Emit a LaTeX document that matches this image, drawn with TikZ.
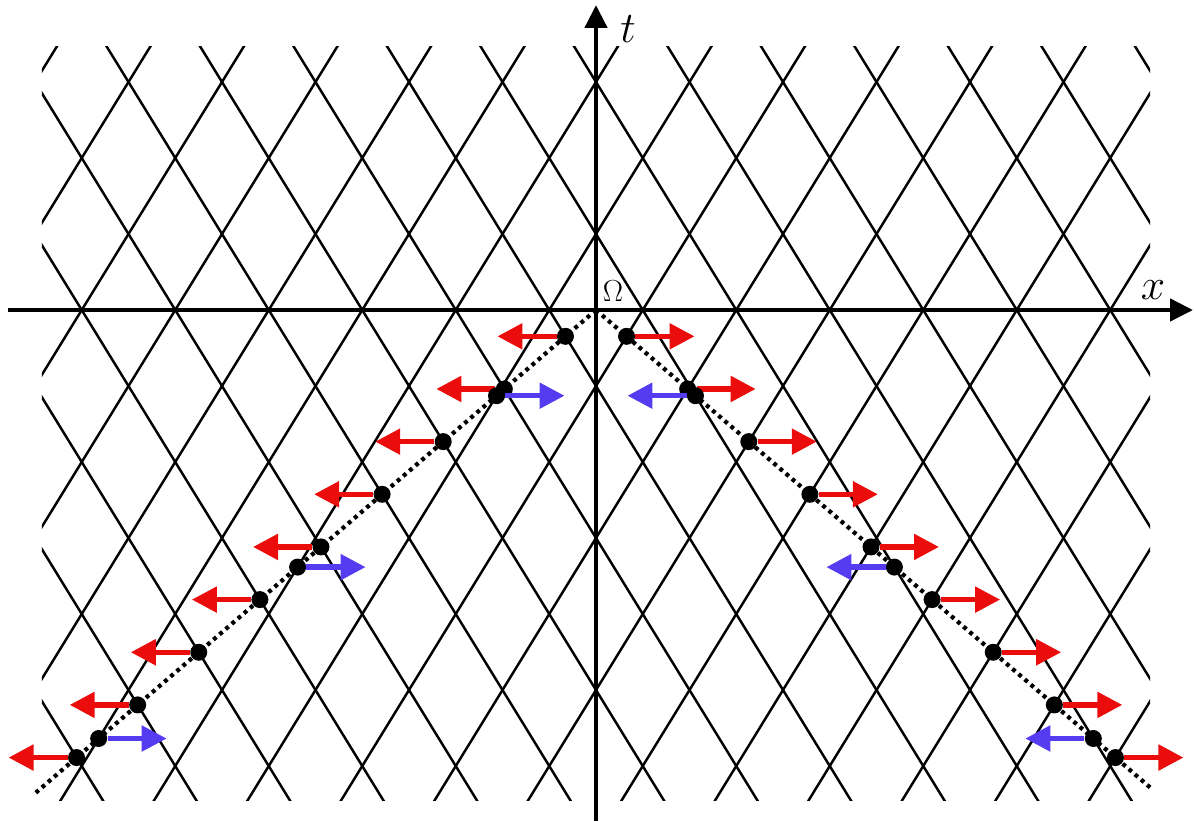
\documentclass[tikz,border=0pt]{standalone}
\usetikzlibrary{arrows.meta}

\definecolor{kinkred}{RGB}{235,12,12}
\definecolor{kinkblue}{RGB}{85,60,240}

\begin{document}
\begin{tikzpicture}[x=0.935cm, y=1.52cm,
  grid/.style={line width=1.4pt},
  axis/.style={line width=2.6pt, -{Triangle[length=4.6mm,width=4.4mm]}},
  worldline/.style={line width=2.4pt, dash pattern=on 2.2pt off 2.4pt},
  dot/.style={circle, fill=black, inner sep=0pt, minimum size=3.4mm},
  mover/.style={line width=3pt, -{Triangle[length=5mm,width=5mm]}}]
  \useasboundingbox (-11.92cm,-10.22cm) rectangle (11.96cm,6.2cm);
  \def\vel{0.53}

  % light-cone lattice
  \begin{scope}
    \clip (-11.08cm,-9.8cm) rectangle (11.08cm,5.26cm);
    \foreach \k in {-21,-19,...,21} {
      \draw[grid] (\k-8,8) -- (\k+8,-8);
      \draw[grid] (\k-8,-8) -- (\k+8,8);
    }
  \end{scope}

  % axes
  \coordinate (O) at (0,0);
  \coordinate (tbot) at (0,-10.22cm);
  \coordinate (ttop) at (0,6.1cm);
  \coordinate (xleft) at (-11.76cm,0);
  \coordinate (xright) at (11.94cm,0);
  \draw[axis] (tbot) -- (ttop);
  \draw[axis] (xleft) -- (xright);
  \node[font=\fontsize{25}{30}\selectfont] (tlab) at (0.64cm,5.62cm) {$t$};
  \node[font=\fontsize{25}{30}\selectfont] (xlab) at (11.14cm,0.4cm) {$x$};
  \node[font=\fontsize{19}{22}\selectfont] (omega) at (0.34cm,0.38cm) {$\Omega$};

  % trajectories
  \coordinate (lend) at (-12,-12*\vel);
  \coordinate (rend) at (11.92,-11.92*\vel);
  \draw[worldline] (O) -- (lend);
  \draw[worldline] (O) -- (rend);

  % crossings with the left-moving lines
  \foreach \k in {1,3,...,17} {
    \pgfmathsetmacro\xr{\k/(1+\vel)}
    \node[dot] (rl\k) at (-\xr,-\vel*\xr) {};
    \node[dot] (rr\k) at (\xr,-\vel*\xr) {};
    \coordinate (rlt\k) at ([xshift=-1.36cm]rl\k.center);
    \coordinate (rrt\k) at ([xshift=1.36cm]rr\k.center);
    \draw[mover, kinkred] (rl\k) -- (rlt\k);
    \draw[mover, kinkred] (rr\k) -- (rrt\k);
  }
  % crossings with the right-moving lines
  \foreach \k in {1,3,5} {
    \pgfmathsetmacro\xb{\k/(1-\vel)}
    \node[dot] (bl\k) at (-\xb,-\vel*\xb) {};
    \node[dot] (br\k) at (\xb,-\vel*\xb) {};
    \coordinate (blt\k) at ([xshift=1.36cm]bl\k.center);
    \coordinate (brt\k) at ([xshift=-1.36cm]br\k.center);
    \draw[mover, kinkblue] (bl\k) -- (blt\k);
    \draw[mover, kinkblue] (br\k) -- (brt\k);
  }
\end{tikzpicture}
\end{document}
